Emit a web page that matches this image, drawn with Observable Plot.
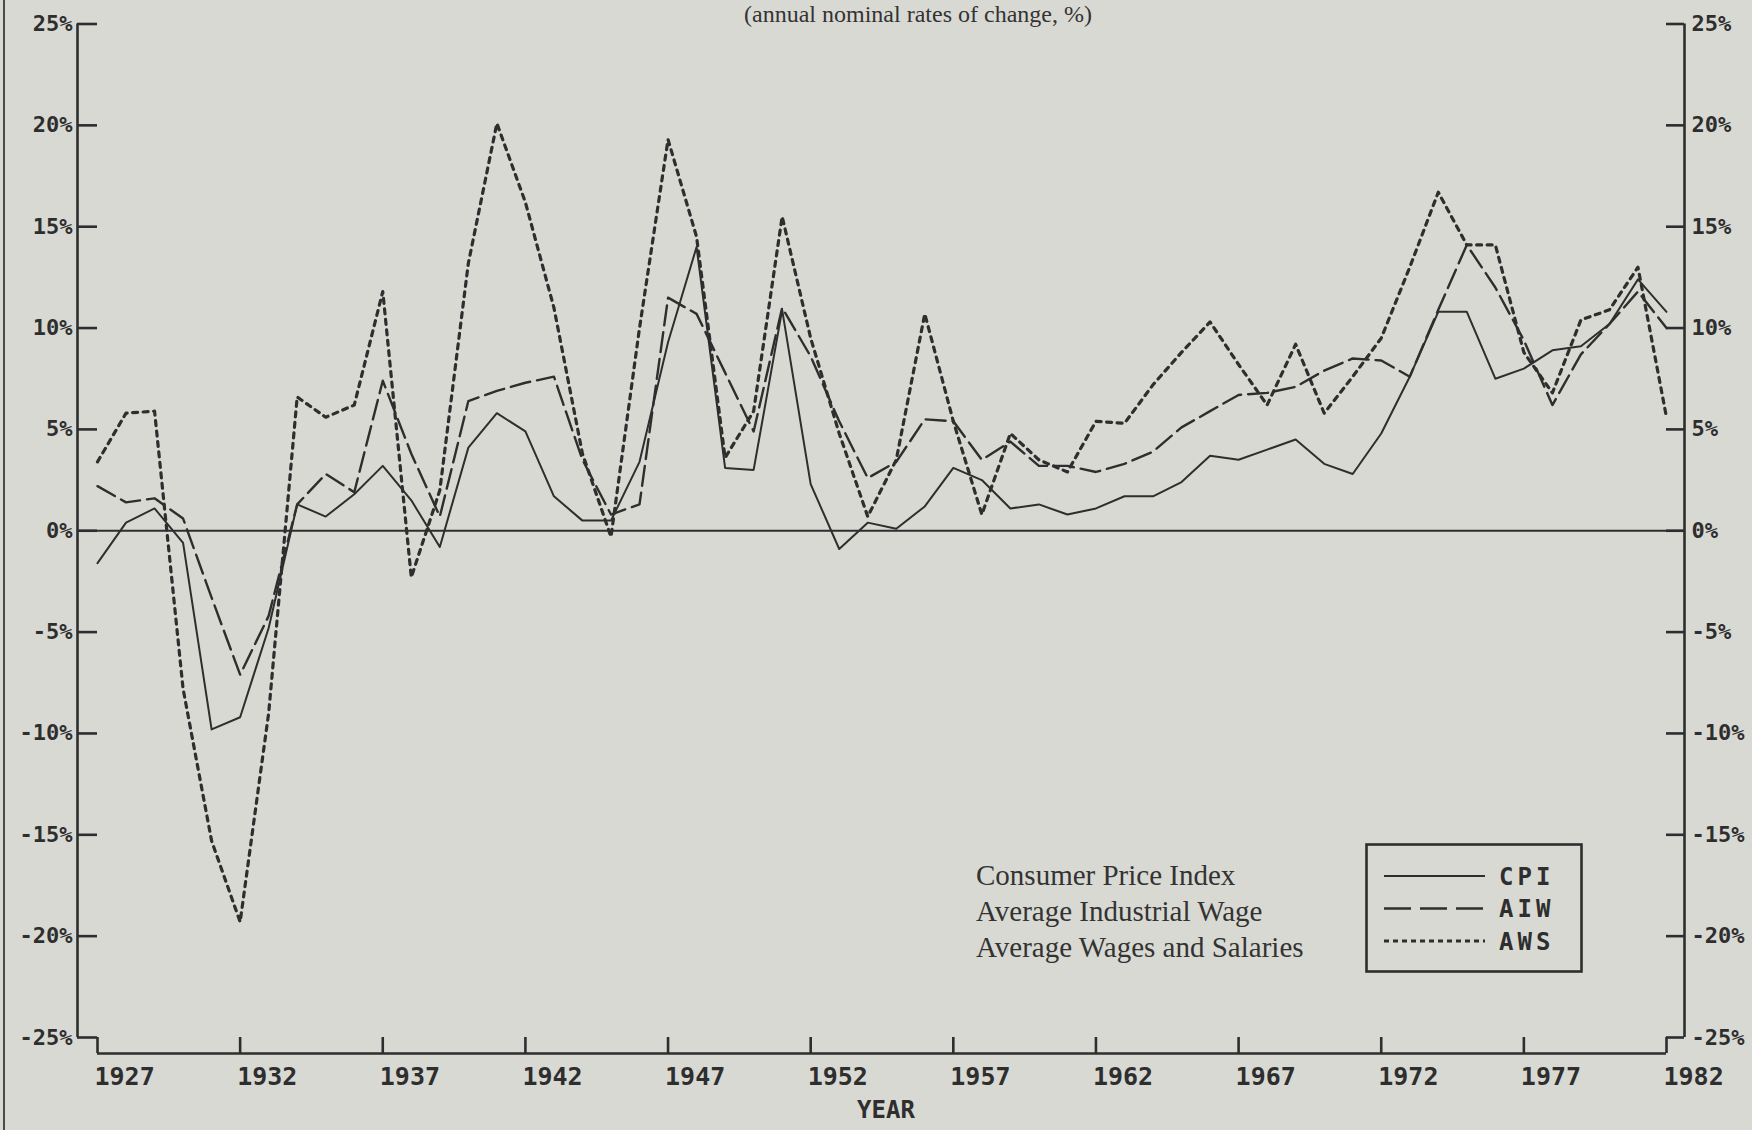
<!DOCTYPE html>
<html><head><meta charset="utf-8">
<script src="https://cdn.jsdelivr.net/npm/d3@7"></script>
<script src="https://cdn.jsdelivr.net/npm/@observablehq/plot@0.6"></script>
<style>
body{margin:0;background:#d9d9d4;}
#wrap{position:relative;width:1752px;height:1130px;overflow:hidden;background:#d9d9d4;}
#chart{position:absolute;left:0;top:0;}
#edge{position:absolute;left:3px;top:0;width:2px;height:1130px;background:#4a4a48;}
#title{position:absolute;left:0;width:1836px;top:2px;line-height:25px;text-align:center;font-family:"Liberation Serif",serif;font-size:24px;color:#333;}
#names{position:absolute;left:976px;top:857px;font-family:"Liberation Serif",serif;font-size:29px;line-height:36px;color:#333;white-space:nowrap;}
#key{position:absolute;left:1365px;top:843px;}
</style>
</head><body>
<div id="wrap">
  <div id="chart"></div>
  <div id="edge"></div>
  <div id="title">(annual nominal rates of change, %)</div>
  <div id="names"></div>
  <svg id="key" width="220" height="132"></svg>
</div>
<script>
const years = [1927,1928,1929,1930,1931,1932,1933,1934,1935,1936,1937,1938,1939,1940,1941,1942,1943,1944,1945,1946,1947,1948,1949,1950,1951,1952,1953,1954,1955,1956,1957,1958,1959,1960,1961,1962,1963,1964,1965,1966,1967,1968,1969,1970,1971,1972,1973,1974,1975,1976,1977,1978,1979,1980,1981,1982];
const cpi = [-1.6,0.4,1.1,-0.6,-9.8,-9.2,-4.8,1.3,0.7,1.8,3.2,1.5,-0.8,4.1,5.8,4.9,1.7,0.5,0.5,3.4,9.3,14.0,3.1,3.0,10.9,2.3,-0.9,0.4,0.1,1.2,3.1,2.5,1.1,1.3,0.8,1.1,1.7,1.7,2.4,3.7,3.5,4.0,4.5,3.3,2.8,4.8,7.6,10.8,10.8,7.5,8.0,8.9,9.1,10.2,12.4,10.8];
const aiw = [2.2,1.4,1.6,0.6,-3.3,-7.1,-4.2,1.3,2.8,1.9,7.4,3.8,0.7,6.4,6.9,7.3,7.6,3.5,0.8,1.3,11.5,10.7,7.8,4.9,11.0,8.6,5.4,2.6,3.4,5.5,5.4,3.5,4.4,3.2,3.2,2.9,3.3,3.9,5.1,5.9,6.7,6.8,7.1,7.9,8.5,8.4,7.6,10.9,14.1,12.0,9.4,6.2,8.7,10.2,11.8,10.0];
const aws = [3.4,5.8,5.9,-7.8,-15.3,-19.3,-9.0,6.6,5.6,6.2,11.8,-2.3,2.0,13.2,20.1,16.2,11.0,3.8,-0.3,10.0,19.3,14.5,3.6,5.9,15.5,9.5,4.8,0.7,3.5,10.7,5.4,0.8,4.8,3.5,2.9,5.4,5.3,7.2,8.8,10.3,8.2,6.2,9.2,5.8,7.6,9.5,13.0,16.7,14.1,14.1,8.8,6.8,10.4,10.9,13.0,5.6];
const yTicks = [-25,-20,-15,-10,-5,0,5,10,15,20,25];
const xTicks = [1927,1932,1937,1942,1947,1952,1957,1962,1967,1972,1977,1982];
const seriesNames = ["Consumer Price Index","Average Industrial Wage","Average Wages and Salaries"];
const seriesCodes = ["CPI","AIW","AWS"];
const xLabel = "YEAR";

const ink = "#2e2e2e";
const mono = "DejaVu Sans Mono";
const rows = years.map((year, i) => ({year, cpi: cpi[i], aiw: aiw[i], aws: aws[i]}));
const x0 = years[0], x1 = years[years.length - 1];
const yMin = yTicks[0], yMax = yTicks[yTicks.length - 1];
const dashes = [null, "20,7", "5,5.5"];
const widths = [2, 2.4, 3.2];

const chart = Plot.plot({
  width: 1752, height: 1130,
  marginLeft: 97, marginRight: 86, marginTop: 23.5, marginBottom: 93,
  x: {domain: [x0, x1], axis: null},
  y: {domain: [yMin, yMax], axis: null},
  style: {background: "transparent", color: ink, fontFamily: mono},
  marks: [
    Plot.ruleX([x0], {y1: yMin, y2: yMax, dx: -20, stroke: ink, strokeWidth: 2.6}),
    Plot.ruleX([x1], {y1: yMin, y2: yMax, dx: 18, stroke: ink, strokeWidth: 2.6}),
    Plot.ruleY([yMin], {x1: x0, x2: x1, dy: 16, stroke: ink, strokeWidth: 2.6}),
    Plot.ruleY(yTicks, {x1: x0, x2: x0, insetLeft: -20, stroke: ink, strokeWidth: 2.6}),
    Plot.ruleY(yTicks, {x1: x1, x2: x1, insetRight: -18, stroke: ink, strokeWidth: 2.6}),
    Plot.ruleX(xTicks, {y1: yMin, y2: yMin, insetBottom: -16, stroke: ink, strokeWidth: 2.6}),
    Plot.ruleY([0], {x1: x0, x2: x1, insetLeft: -20, insetRight: -18, stroke: ink, strokeWidth: 2.2}),
    Plot.text(yTicks, {x: x0, y: d => d, text: d => `${d}%`, dx: -25, textAnchor: "end", fontSize: 22, fontWeight: "bold", fill: ink, fontFamily: mono}),
    Plot.text(yTicks, {x: x1, y: d => d, text: d => `${d}%`, dx: 25, textAnchor: "start", fontSize: 22, fontWeight: "bold", fill: ink, fontFamily: mono}),
    Plot.text(xTicks, {x: d => d, y: yMin, text: d => String(d), dy: 39, dx: -3, textAnchor: "start", fontSize: 25, fontWeight: "bold", fill: ink, fontFamily: mono, ariaLabel: "xlabels"}),
    Plot.text([xLabel], {frameAnchor: "bottom", dy: 80, dx: 4, fontSize: 24, fontWeight: "bold", fill: ink, fontFamily: mono, ariaLabel: "xtitle"}),
    Plot.line(rows, {x: "year", y: "cpi", stroke: ink, strokeWidth: widths[0]}),
    Plot.line(rows, {x: "year", y: "aiw", stroke: ink, strokeWidth: widths[1], strokeDasharray: dashes[1]}),
    Plot.line(rows, {x: "year", y: "aws", stroke: ink, strokeWidth: widths[2], strokeDasharray: dashes[2]})
  ]
});
document.getElementById("chart").appendChild(chart);
d3.select(chart).selectAll('g[aria-label="xlabels"] text').style("letter-spacing", "2.5px");
d3.select(chart).selectAll('g[aria-label="xtitle"] text').style("letter-spacing", "5px");

d3.select("#names").selectAll("div").data(seriesNames).join("div").text(d => d);
const key = d3.select("#key");
key.append("rect").attr("x", 1.5).attr("y", 1.5).attr("width", 215).attr("height", 127)
  .attr("fill", "none").attr("stroke", ink).attr("stroke-width", 2.6);
seriesCodes.forEach((c, i) => {
  const yy = 33 + i * 32.5;
  key.append("line").attr("x1", 19).attr("x2", 120).attr("y1", yy).attr("y2", yy)
    .attr("stroke", ink).attr("stroke-width", widths[i]).attr("stroke-dasharray", i === 1 ? "27,9" : (i === 2 ? "5,4" : null));
  key.append("text").attr("x", 134).attr("y", yy).attr("dy", "0.36em").text(c)
    .attr("font-family", mono).attr("font-weight", "bold").attr("font-size", 24)
    .attr("fill", ink).style("letter-spacing", "4px");
});
</script>
</body></html>
